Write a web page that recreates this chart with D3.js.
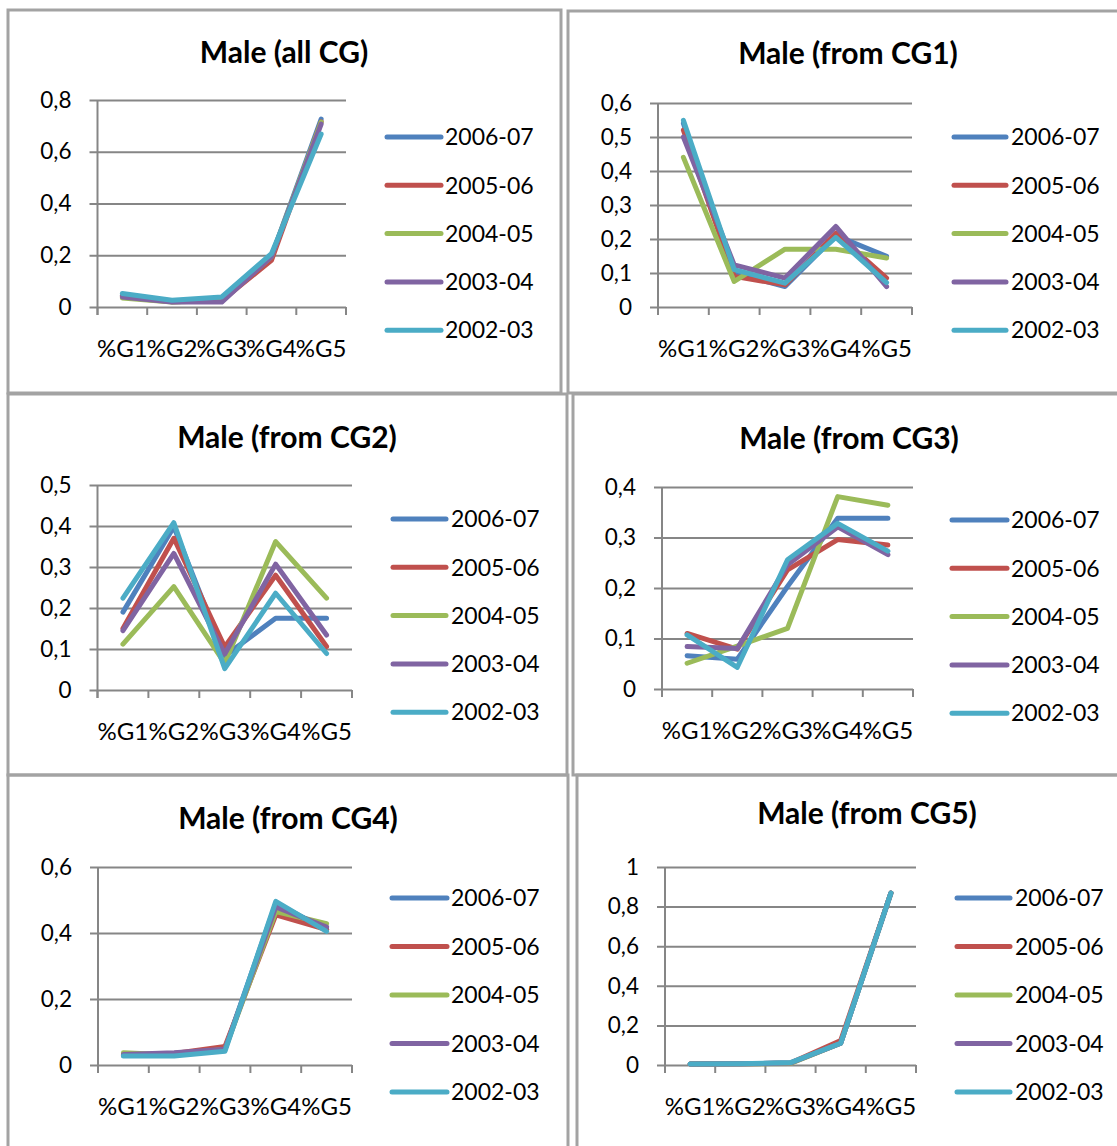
<!DOCTYPE html>
<html>
<head>
<meta charset="utf-8">
<script src="https://cdn.jsdelivr.net/npm/d3@7"></script>
<style>
  body { margin: 0; background: #fff; }
  text { font-family: Lato, "Open Sans", sans-serif; fill: #000; }
</style>
</head>
<body>
<svg id="chart"></svg>
<script>
// categories and series
var categories = ["%G1", "%G2", "%G3", "%G4", "%G5"];
var seriesNames = ["2006-07", "2005-06", "2004-05", "2003-04", "2002-03"];
var seriesColors = ["#4F81BD", "#C0504D", "#9BBB59", "#8064A2", "#4BACC6"];
var titles = ["Male (all CG)", "Male (from CG1)", "Male (from CG2)",
              "Male (from CG3)", "Male (from CG4)", "Male (from CG5)"];
var axisMax = [0.8, 0.6, 0.5, 0.4, 0.6, 1];
var tickStep = [0.2, 0.1, 0.1, 0.1, 0.2, 0.2];

// one row per series (2006-07 ... 2002-03), one value per category
var allCG = [
  [0.045, 0.02, 0.025, 0.195, 0.726],
  [0.042, 0.02, 0.025, 0.18, 0.716],
  [0.035, 0.019, 0.025, 0.195, 0.715],
  [0.039, 0.019, 0.019, 0.195, 0.707],
  [0.052, 0.026, 0.039, 0.206, 0.668]
];
var fromCG1 = [
  [0.54, 0.1, 0.06, 0.21, 0.149],
  [0.52, 0.09, 0.065, 0.217, 0.085],
  [0.44, 0.075, 0.17, 0.17, 0.144],
  [0.50, 0.124, 0.085, 0.237, 0.06],
  [0.549, 0.11, 0.07, 0.205, 0.072]
];
var fromCG2 = [
  [0.19, 0.398, 0.083, 0.175, 0.175],
  [0.15, 0.37, 0.105, 0.28, 0.106],
  [0.112, 0.252, 0.065, 0.362, 0.224],
  [0.145, 0.333, 0.088, 0.307, 0.134],
  [0.224, 0.408, 0.052, 0.236, 0.089]
];
var fromCG3 = [
  [0.066, 0.059, 0.203, 0.338, 0.338],
  [0.11, 0.079, 0.236, 0.296, 0.285],
  [0.051, 0.085, 0.12, 0.381, 0.364],
  [0.084, 0.08, 0.246, 0.321, 0.266],
  [0.107, 0.043, 0.256, 0.328, 0.273]
];
var fromCG4 = [
  [0.03, 0.032, 0.048, 0.49, 0.41],
  [0.03, 0.035, 0.056, 0.455, 0.41],
  [0.037, 0.03, 0.048, 0.465, 0.428],
  [0.032, 0.037, 0.048, 0.479, 0.418],
  [0.027, 0.027, 0.042, 0.496, 0.405]
];
var fromCG5 = [
  [0.005, 0.006, 0.01, 0.11, 0.868],
  [0.005, 0.006, 0.01, 0.123, 0.868],
  [0.005, 0.006, 0.008, 0.11, 0.868],
  [0.005, 0.006, 0.01, 0.11, 0.868],
  [0.005, 0.006, 0.012, 0.11, 0.868]
];
var panelData = [allCG, fromCG1, fromCG2, fromCG3, fromCG4, fromCG5];

// layout of each panel on the page
var panels = [
  {box: [8, 10, 561, 393],     title: [284, 52],  plot: [97.5, 346, 100, 307], legend: [387, 441, 445, 137, 48.3]},
  {box: [568, 11, 1130, 393],  title: [848, 53],  plot: [658, 912, 103, 307],  legend: [954, 1006, 1011, 137, 48.3]},
  {box: [8, 394, 567, 775],    title: [287, 437], plot: [97.5, 352, 485, 690], legend: [393, 446, 451, 519, 48.3]},
  {box: [573, 394, 1130, 775], title: [849, 438], plot: [662, 913, 487, 689],  legend: [952, 1007, 1011, 520, 48.3]},
  {box: [8, 775, 568, 1160],   title: [288, 818], plot: [98, 352, 867, 1065],  legend: [392, 447, 451, 898, 48.5]},
  {box: [577, 775, 1130, 1160],title: [867, 813], plot: [665, 916, 867, 1065], legend: [957, 1010, 1015, 898, 48.5]}
];

var W = 1117, H = 1146;
var svg = d3.select("#chart").attr("width", W).attr("height", H);
svg.append("rect").attr("width", W).attr("height", H).attr("fill", "#fff");

var gridColor = "#868686";
var fmt = function(d){ return String(+d.toFixed(1)).replace(".", ","); };

panels.forEach(function(p, i){
  var data = panelData[i];
  var g = svg.append("g");

  // panel frame
  g.append("rect")
    .attr("x", p.box[0]).attr("y", p.box[1])
    .attr("width", p.box[2] - p.box[0]).attr("height", p.box[3] - p.box[1])
    .attr("fill", "none").attr("stroke", "#a3a3a3").attr("stroke-width", 3);

  // title
  g.append("text")
    .attr("x", p.title[0]).attr("y", p.title[1])
    .attr("dy", "0.36em")
    .attr("text-anchor", "middle")
    .style("font-weight", "bold").style("font-size", "30px")
    .text(titles[i]);

  var x0 = p.plot[0], x1 = p.plot[1], yTop = p.plot[2], yBot = p.plot[3];
  var x = d3.scaleBand().domain(categories).range([x0, x1]);
  var y = d3.scaleLinear().domain([0, axisMax[i]]).range([yBot, yTop]);
  var ticks = d3.range(0, axisMax[i] + 1e-9, tickStep[i]);

  // y axis with gridlines
  var yAxis = d3.axisLeft(y).tickValues(ticks).tickFormat(fmt)
    .tickSizeInner(-(x1 - x0)).tickSizeOuter(0).tickPadding(26);
  var ya = g.append("g").attr("transform", "translate(" + x0 + ",0)").call(yAxis);
  ya.select(".domain").remove();
  ya.selectAll(".tick line").attr("x1", -8).attr("stroke", gridColor).attr("stroke-width", 2);
  ya.selectAll(".tick text").style("font-size", "22.5px").attr("fill", "#000");

  // vertical axis line
  g.append("line")
    .attr("x1", x0).attr("x2", x0).attr("y1", yTop).attr("y2", yBot + 8)
    .attr("stroke", gridColor).attr("stroke-width", 2);

  // category tick marks at band boundaries
  g.selectAll(".ctick").data(d3.range(categories.length + 1)).enter()
    .append("line")
    .attr("x1", function(d){ return x0 + d * x.step(); })
    .attr("x2", function(d){ return x0 + d * x.step(); })
    .attr("y1", yBot).attr("y2", yBot + 8)
    .attr("stroke", gridColor).attr("stroke-width", 2);

  // x axis labels
  var xAxis = d3.axisBottom(x).tickSize(0).tickPadding(33);
  var xa = g.append("g").attr("transform", "translate(0," + yBot + ")").call(xAxis);
  xa.select(".domain").remove();
  xa.selectAll(".tick text").style("font-size", "24px").attr("fill", "#000");

  // series lines
  var line = d3.line()
    .x(function(d, j){ return x(categories[j]) + x.bandwidth() / 2; })
    .y(function(d){ return y(d); });
  g.selectAll(".series").data(data).enter()
    .append("path")
    .attr("d", line)
    .attr("fill", "none")
    .attr("stroke", function(d, k){ return seriesColors[k]; })
    .attr("stroke-width", 5)
    .attr("stroke-linejoin", "round")
    .attr("stroke-linecap", "round");

  // legend
  var L = p.legend;
  var items = g.selectAll(".leg").data(seriesNames).enter().append("g")
    .attr("transform", function(d, k){ return "translate(0," + (L[3] + k * L[4]) + ")"; });
  items.append("line")
    .attr("x1", L[0]).attr("x2", L[1]).attr("y1", 0).attr("y2", 0)
    .attr("stroke", function(d, k){ return seriesColors[k]; })
    .attr("stroke-width", 5).attr("stroke-linecap", "round");
  items.append("text")
    .attr("x", L[2]).attr("dy", "0.36em")
    .style("font-size", "23px")
    .text(function(d){ return d; });
});
</script>
</body>
</html>
